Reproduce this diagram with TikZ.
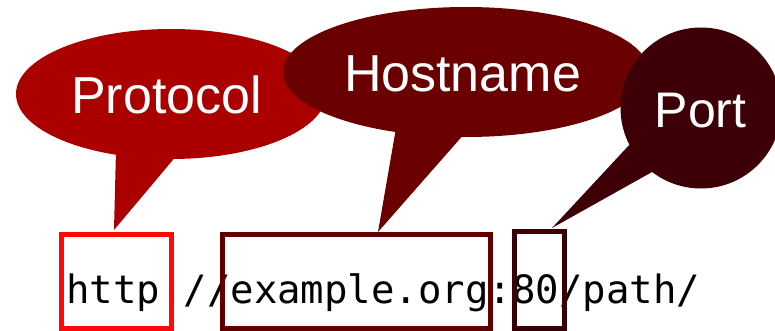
\documentclass[tikz,border=0pt]{standalone}
\usepackage{fontspec}
\usetikzlibrary{shapes.geometric}
\setmainfont{Liberation Sans}
\newfontfamily\urlmono{DejaVu Sans Mono}
\definecolor{protofill}{RGB}{170,0,0}
\definecolor{hostfill}{RGB}{106,0,0}
\definecolor{portfill}{RGB}{62,0,6}
\definecolor{protobox}{RGB}{255,8,8}
\definecolor{hostbox}{RGB}{98,0,0}
\definecolor{portbox}{RGB}{56,0,4}
\begin{document}
\begin{tikzpicture}[x=1pt,y=-1pt,
  bubble/.style={ellipse,inner sep=0pt,draw=none},
  bubbletext/.style={text=white,inner sep=0pt,anchor=base,font=\fontsize{52}{60}\selectfont},
  hilite/.style={line width=4.5pt}]
\useasboundingbox (0,0) rectangle (775,331);
% Protocol
\node[bubble,fill=protofill,minimum width=310pt,minimum height=130pt] (protoE) at (171,94) {};
\coordinate (protoA) at (116,150);
\coordinate (protoB) at (177,155);
\coordinate (protoTip) at (114,230);
\fill[protofill] (protoA) -- (protoTip) -- (protoB) -- cycle;
\node[bubbletext] (protoT) at (166.5,114) {Protocol};
% Hostname
\node[bubble,fill=hostfill,minimum width=366pt,minimum height=130pt] (hostE) at (466,72) {};
\coordinate (hostA) at (396,128);
\coordinate (hostB) at (465,133);
\coordinate (hostTip) at (378,232);
\fill[hostfill] (hostA) -- (hostTip) -- (hostB) -- cycle;
\node[bubbletext] (hostT) at (462.5,92) {Hostname};
% Port
\node[circle,inner sep=0pt,fill=portfill,minimum size=161pt] (portE) at (701,108) {};
\coordinate (portA) at (632,142);
\coordinate (portB) at (652,172);
\coordinate (portTip) at (552,228);
\fill[portfill] (portA) -- (portTip) -- (portB) -- cycle;
\node[bubbletext,font=\fontsize{50}{58}\selectfont] (portT) at (700.5,128) {Port};
% URL text
\node[anchor=base west,inner sep=0pt,font=\urlmono\fontsize{39}{46}\selectfont] (url) at (66,303) {http://example.org:80/path/};
% highlight boxes
\draw[hilite,protobox] (61.5,234.5) rectangle (171.5,328.5);
\draw[hilite,hostbox] (222.5,234.5) rectangle (490.5,328.5);
\draw[hilite,portbox] (514.5,231.5) rectangle (564.5,328.5);
\end{tikzpicture}
\end{document}
